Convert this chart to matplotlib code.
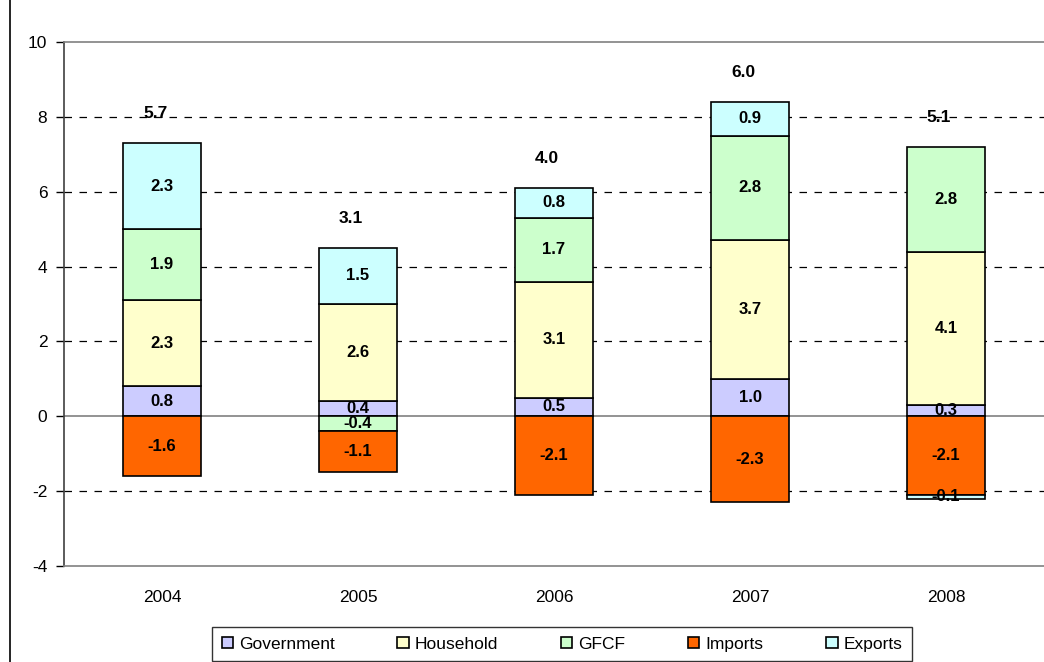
import numpy as np
import matplotlib
matplotlib.use('Agg')
import matplotlib.pyplot as plt
from matplotlib.lines import Line2D

plt.rcParams['font.family'] = ['Liberation Sans', 'DejaVu Sans']

YEARS = ['2004', '2005', '2006', '2007', '2008']
SERIES = ['Government', 'Household', 'GFCF', 'Imports', 'Exports']
government = [0.8, 0.4, 0.5, 1.0, 0.3]
household = [2.3, 2.6, 3.1, 3.7, 4.1]
gfcf = [1.9, -0.4, 1.7, 2.8, 2.8]
imports = [-1.6, -1.1, -2.1, -2.3, -2.1]
exports = [2.3, 1.5, 0.8, 0.9, -0.1]
totals = [5.7, 3.1, 4.0, 6.0, 5.1]

COLORS = ['#CCCCFF', '#FFFFCC', '#CCFFCC', '#FF6600', '#CCFFFF']


def main():
    fig = plt.figure(figsize=(10.44, 6.62), dpi=100)
    ax = fig.add_axes([64 / 1044, 1 - 566 / 662, 1 - 64 / 1044, (566 - 42) / 662])

    data = [government, household, gfcf, imports, exports]
    x = np.arange(len(YEARS))
    pos_base = np.zeros(len(YEARS))
    neg_base = np.zeros(len(YEARS))
    width = 0.40

    for name, vals, color in zip(SERIES, data, COLORS):
        vals = np.array(vals)
        bottoms = np.where(vals >= 0, pos_base, neg_base)
        ax.bar(x, vals, width, bottom=bottoms, color=color, edgecolor='black',
               linewidth=1.2, label=name, zorder=3)
        for xi, v, b in zip(x, vals, bottoms):
            ax.text(xi, b + v / 2, '%.1f' % v, ha='center', va='center',
                    fontsize=12, fontweight='bold', zorder=4)
        pos_base = pos_base + np.where(vals >= 0, vals, 0)
        neg_base = neg_base + np.where(vals < 0, vals, 0)

    # total labels above each stack
    for xi, top, t in zip(x, pos_base, totals):
        ax.annotate('%.1f' % t, (xi, top), xytext=(-5, 21), textcoords='offset points',
                    ha='center', va='center', fontsize=12.5, fontweight='bold', zorder=4)

    ax.set_xlim(-0.5, 4.5)
    ax.set_ylim(-4, 10)
    ax.set_yticks(np.arange(-4, 11, 2))
    ax.set_yticklabels([str(v) for v in range(-4, 11, 2)], fontsize=12.5)
    ax.set_xticks(x)
    ax.set_xticklabels(YEARS, fontsize=12.5)
    ax.tick_params(axis='x', length=0, pad=17)
    ax.tick_params(axis='y', length=6, width=1, direction='out', pad=6)

    for v in [-2, 2, 4, 6, 8]:
        ax.axhline(v, color='black', linewidth=0.9, linestyle=(0, (6, 6)), zorder=1)
    ax.axhline(0, color='#808080', linewidth=1.2, zorder=2)

    ax.spines['right'].set_visible(False)
    ax.spines['top'].set_color('#808080')
    ax.spines['top'].set_linewidth(1.2)
    ax.spines['bottom'].set_color('#808080')
    ax.spines['bottom'].set_linewidth(1.2)
    ax.spines['left'].set_color('#404040')
    ax.spines['left'].set_linewidth(1.2)

    leg = fig.legend(loc='upper left', ncol=5, mode='expand',
                     bbox_to_anchor=(212 / 1044, 0, 700 / 1044, 1 - 627 / 662),
                     borderaxespad=0, fontsize=12.5, frameon=True, fancybox=False,
                     handlelength=0.65, handleheight=0.65, handletextpad=0.35,
                     borderpad=0.55)
    leg.get_frame().set_edgecolor('black')
    leg.get_frame().set_linewidth(1.0)

    fig.add_artist(Line2D([10 / 1044, 10 / 1044], [0, 1], color='black', linewidth=1.2,
                          transform=fig.transFigure))

    fig.savefig('out.png', dpi=100)


if (__name__ == '__main__'):
    main()
